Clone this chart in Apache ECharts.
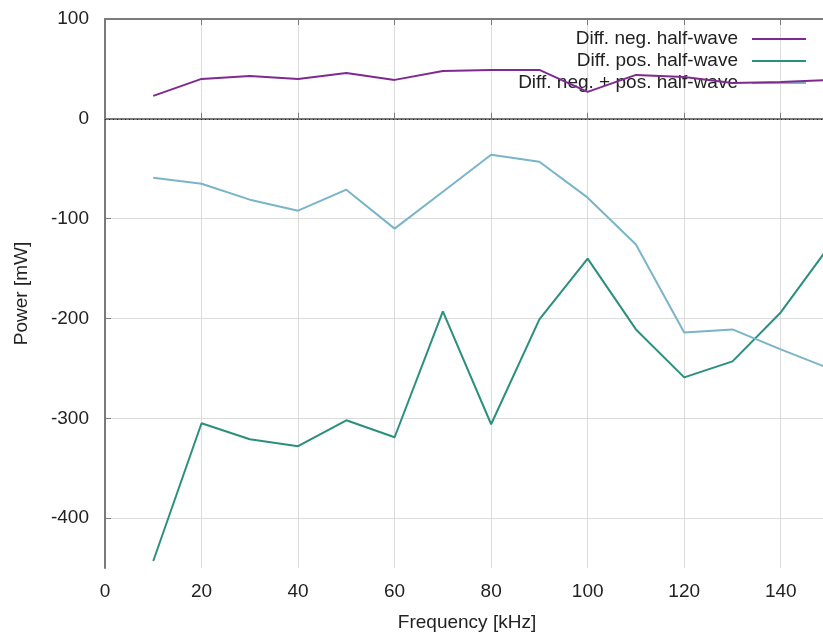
<!DOCTYPE html>
<html>
<head>
<meta charset="utf-8">
<script src="https://cdn.jsdelivr.net/npm/echarts@6/dist/echarts.min.js"></script>
<style>
  html, body { margin: 0; padding: 0; background: #fff; overflow: hidden; }
  #chart { width: 823px; height: 640px; }
</style>
</head>
<body>
<div id="chart"></div>
<script>
// Frequency sweep (kHz)
const frequency = [10, 20, 30, 40, 50, 60, 70, 80, 90, 100, 110, 120, 130, 140, 150];

// Power differences (mW)
const diffNeg    = [23, 40, 43, 40, 46, 39, 48, 49, 49, 27, 44, 42, 36, 37, 39];
const diffPos    = [-443, -305, -321, -328, -302, -319, -193, -306, -201, -140, -211, -259, -243, -194, -128];
const diffNegPos = [-59, -65, -81, -92, -71, -110, -73, -36, -43, -79, -126, -214, -211, -231, -250];

const seriesNames = ['Diff. neg. half-wave', 'Diff. pos. half-wave', 'Diff. neg. + pos. half-wave'];

// Axis ticks
const xTicks = [0, 20, 40, 60, 80, 100, 120, 140];
const yTicks = [-400, -300, -200, -100, 0, 100];

const pairs = vals => frequency.map((f, i) => [f, vals[i]]);

const FONT = '"Liberation Sans", Arial, sans-serif';
const TEXT = '#222';
const FRAME = '#7a7a7a';
const GRIDLINE = '#dcdcdc';

const chart = echarts.init(document.getElementById('chart'), null, { renderer: 'canvas' });

chart.setOption({
  animation: false,
  backgroundColor: '#fff',
  textStyle: { fontFamily: FONT },
  // the plot frame runs a little past the right edge of the canvas
  grid: { left: 105, top: 19, width: 724, bottom: 72, outerBoundsMode: 'none', containLabel: false },
  legend: {
    orient: 'vertical',
    right: 12,
    top: 23,
    align: 'right',
    icon: 'rect',
    itemWidth: 54,
    itemHeight: 2,
    itemGap: 0,
    textStyle: { fontSize: 19, color: TEXT, lineHeight: 22, padding: [0, 9, 0, 0], fontFamily: FONT },
    data: seriesNames
  },
  xAxis: [{
    type: 'value',
    min: 0, max: 150, interval: 20,
    name: 'Frequency [kHz]',
    nameLocation: 'middle',
    nameGap: 45,
    nameTextStyle: { fontSize: 19, color: TEXT, fontFamily: FONT },
    axisLine: { show: true, lineStyle: { color: FRAME, width: 2 } },
    axisTick: { show: true, inside: true, length: 6, lineStyle: { color: FRAME }, customValues: xTicks },
    axisLabel: { fontSize: 19, color: TEXT, margin: 14, customValues: xTicks, fontFamily: FONT },
    splitLine: { show: true, lineStyle: { color: GRIDLINE, width: 1 } }
  }, {
    type: 'value',
    position: 'top',
    min: 0, max: 150, interval: 20,
    axisLine: { show: true, lineStyle: { color: FRAME, width: 2 } },
    axisTick: { show: true, inside: true, length: 6, lineStyle: { color: FRAME }, customValues: xTicks },
    axisLabel: { show: false },
    splitLine: { show: false }
  }],
  yAxis: {
    type: 'value',
    min: -450, max: 100,
    name: 'Power [mW]',
    nameLocation: 'middle',
    nameGap: 74,
    nameTextStyle: { fontSize: 19, color: TEXT, fontFamily: FONT },
    axisLine: { show: true, lineStyle: { color: FRAME, width: 2 } },
    axisTick: { show: true, inside: true, length: 6, lineStyle: { color: FRAME }, customValues: yTicks },
    axisLabel: { fontSize: 19, color: TEXT, margin: 16, customValues: yTicks, fontFamily: FONT },
    splitLine: { show: true, lineStyle: { color: GRIDLINE, width: 1 } }
  },
  series: [{
    name: seriesNames[0],
    type: 'line',
    z: 5,
    data: pairs(diffNeg),
    showSymbol: false,
    lineStyle: { color: '#7f2a8f', width: 2 },
    itemStyle: { color: '#7f2a8f' },
    markLine: {
      silent: true,
      symbol: ['none', 'none'],
      label: { show: false },
      lineStyle: { color: '#222', type: [1, 3], width: 1 },
      data: [{ yAxis: 0 }]
    }
  }, {
    name: seriesNames[1],
    type: 'line',
    data: pairs(diffPos),
    showSymbol: false,
    lineStyle: { color: '#2b8f7d', width: 2 },
    itemStyle: { color: '#2b8f7d' }
  }, {
    name: seriesNames[2],
    type: 'line',
    data: pairs(diffNegPos),
    showSymbol: false,
    lineStyle: { color: '#7ab4c9', width: 2 },
    itemStyle: { color: '#7ab4c9' }
  }]
});
</script>
</body>
</html>
